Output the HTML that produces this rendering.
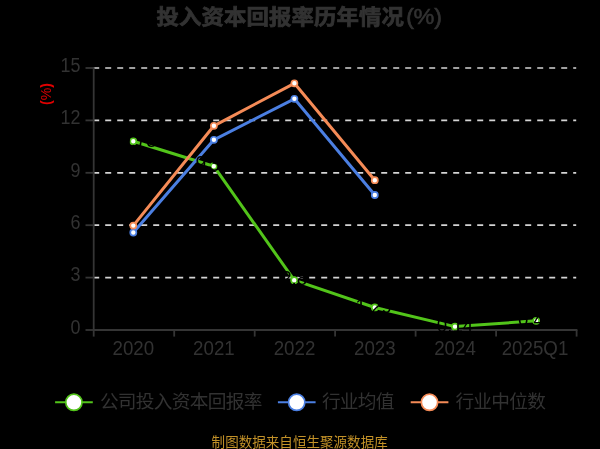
<!DOCTYPE html>
<html lang="zh"><head><meta charset="utf-8"><title>投入资本回报率历年情况(%)</title>
<style>
html,body{margin:0;padding:0;background:#000;}
body{width:600px;height:449px;overflow:hidden;}
svg{display:block;font-family:"Liberation Sans","Noto Sans CJK SC",sans-serif;will-change:transform;}
</style></head><body>
<svg width="600" height="449" viewBox="0 0 600 449">
<rect width="600" height="449" fill="#000"/>
<text transform="translate(0,24.0) scale(1,0.935)" y="0" font-size="22.4" font-weight="bold" fill="#323232" stroke="#323232" stroke-width="0.8"><tspan x="156.6" letter-spacing="0.1">投入资本回报率历年情况</tspan><tspan x="406.2" font-size="23" font-weight="normal" stroke-width="0.7">(</tspan><tspan x="413.6" font-size="23.5" font-weight="normal" stroke-width="0.55">%</tspan><tspan x="434.3" font-size="23" font-weight="normal" stroke-width="0.7">)</tspan></text>
<text transform="translate(51.2,94.1) rotate(-90)" text-anchor="middle" font-size="14.1" fill="#e00000"><tspan font-weight="bold">(</tspan>%<tspan font-weight="bold">)</tspan></text>
<line x1="93.2" y1="277.6" x2="576.2" y2="277.6" stroke="#d4d4d4" stroke-width="1.7" stroke-dasharray="6 6"/>
<line x1="93.2" y1="225.2" x2="576.2" y2="225.2" stroke="#d4d4d4" stroke-width="1.7" stroke-dasharray="6 6"/>
<line x1="93.2" y1="172.8" x2="576.2" y2="172.8" stroke="#d4d4d4" stroke-width="1.7" stroke-dasharray="6 6"/>
<line x1="93.2" y1="120.4" x2="576.2" y2="120.4" stroke="#d4d4d4" stroke-width="1.7" stroke-dasharray="6 6"/>
<line x1="93.2" y1="68.0" x2="576.2" y2="68.0" stroke="#d4d4d4" stroke-width="1.7" stroke-dasharray="6 6"/>
<line x1="93.7" y1="67.3" x2="93.7" y2="330.7" stroke="#353535" stroke-width="1.8"/>
<line x1="93.7" y1="330.0" x2="577.4" y2="330.0" stroke="#353535" stroke-width="1.8"/>
<line x1="85.5" y1="330.0" x2="93.7" y2="330.0" stroke="#353535" stroke-width="1.8"/>
<text transform="translate(80.5,333.8) scale(0.925,1)" text-anchor="end" font-size="19.4" fill="#323232">0</text>
<line x1="85.5" y1="277.6" x2="93.7" y2="277.6" stroke="#353535" stroke-width="1.8"/>
<text transform="translate(80.5,281.4) scale(0.925,1)" text-anchor="end" font-size="19.4" fill="#323232">3</text>
<line x1="85.5" y1="225.2" x2="93.7" y2="225.2" stroke="#353535" stroke-width="1.8"/>
<text transform="translate(80.5,229.0) scale(0.925,1)" text-anchor="end" font-size="19.4" fill="#323232">6</text>
<line x1="85.5" y1="172.8" x2="93.7" y2="172.8" stroke="#353535" stroke-width="1.8"/>
<text transform="translate(80.5,176.6) scale(0.925,1)" text-anchor="end" font-size="19.4" fill="#323232">9</text>
<line x1="85.5" y1="120.4" x2="93.7" y2="120.4" stroke="#353535" stroke-width="1.8"/>
<text transform="translate(80.5,124.2) scale(0.925,1)" text-anchor="end" font-size="19.4" fill="#323232">12</text>
<line x1="85.5" y1="68.0" x2="93.7" y2="68.0" stroke="#353535" stroke-width="1.8"/>
<text transform="translate(80.5,71.8) scale(0.925,1)" text-anchor="end" font-size="19.4" fill="#323232">15</text>
<line x1="93.7" y1="330.0" x2="93.7" y2="336.6" stroke="#353535" stroke-width="1.8"/>
<line x1="174.2" y1="330.0" x2="174.2" y2="336.6" stroke="#353535" stroke-width="1.8"/>
<line x1="254.7" y1="330.0" x2="254.7" y2="336.6" stroke="#353535" stroke-width="1.8"/>
<line x1="335.1" y1="330.0" x2="335.1" y2="336.6" stroke="#353535" stroke-width="1.8"/>
<line x1="415.6" y1="330.0" x2="415.6" y2="336.6" stroke="#353535" stroke-width="1.8"/>
<line x1="496.1" y1="330.0" x2="496.1" y2="336.6" stroke="#353535" stroke-width="1.8"/>
<line x1="576.6" y1="330.0" x2="576.6" y2="336.6" stroke="#353535" stroke-width="1.8"/>
<text transform="translate(133.3,354.9) scale(0.96,1)" text-anchor="middle" font-size="19.5" fill="#323232">2020</text>
<text transform="translate(213.9,354.9) scale(0.96,1)" text-anchor="middle" font-size="19.5" fill="#323232">2021</text>
<text transform="translate(294.5,354.9) scale(0.96,1)" text-anchor="middle" font-size="19.5" fill="#323232">2022</text>
<text transform="translate(374.8,354.9) scale(0.96,1)" text-anchor="middle" font-size="19.5" fill="#323232">2023</text>
<text transform="translate(455.0,354.9) scale(0.96,1)" text-anchor="middle" font-size="19.5" fill="#323232">2024</text>
<text transform="translate(535.0,354.9) scale(0.96,1)" text-anchor="middle" font-size="19.5" fill="#323232">2025Q1</text>
<polyline points="133.3,141.3 213.8,166.2 294.2,280.2 374.8,307.5 455.0,326.6 536.2,320.8" fill="none" stroke="#52c41a" stroke-width="3" stroke-linejoin="round" stroke-linecap="round"/>
<circle cx="133.3" cy="141.3" r="3.05" fill="#fff" stroke="#52c41a" stroke-width="1.7"/>
<circle cx="213.8" cy="166.2" r="3.05" fill="#fff" stroke="#52c41a" stroke-width="1.7"/>
<circle cx="294.2" cy="280.2" r="3.05" fill="#fff" stroke="#52c41a" stroke-width="1.7"/>
<circle cx="374.8" cy="307.5" r="3.05" fill="#fff" stroke="#52c41a" stroke-width="1.7"/>
<circle cx="455.0" cy="326.6" r="3.05" fill="#fff" stroke="#52c41a" stroke-width="1.7"/>
<circle cx="536.2" cy="320.8" r="3.05" fill="#fff" stroke="#52c41a" stroke-width="1.7"/>
<polyline points="133.3,232.5 213.9,139.8 294.4,98.8 374.8,195.0" fill="none" stroke="#4b7fe2" stroke-width="3" stroke-linejoin="round" stroke-linecap="round"/>
<circle cx="133.3" cy="232.5" r="3.05" fill="#fff" stroke="#4b7fe2" stroke-width="1.7"/>
<circle cx="213.9" cy="139.8" r="3.05" fill="#fff" stroke="#4b7fe2" stroke-width="1.7"/>
<circle cx="294.4" cy="98.8" r="3.05" fill="#fff" stroke="#4b7fe2" stroke-width="1.7"/>
<circle cx="374.8" cy="195.0" r="3.05" fill="#fff" stroke="#4b7fe2" stroke-width="1.7"/>
<polyline points="133.3,225.6 213.9,125.8 294.4,83.3 374.8,180.2" fill="none" stroke="#f58b57" stroke-width="3" stroke-linejoin="round" stroke-linecap="round"/>
<circle cx="133.3" cy="225.6" r="3.05" fill="#fff" stroke="#f58b57" stroke-width="1.7"/>
<circle cx="213.9" cy="125.8" r="3.05" fill="#fff" stroke="#f58b57" stroke-width="1.7"/>
<circle cx="294.4" cy="83.3" r="3.05" fill="#fff" stroke="#f58b57" stroke-width="1.7"/>
<circle cx="374.8" cy="180.2" r="3.05" fill="#fff" stroke="#f58b57" stroke-width="1.7"/>
<text transform="translate(133.3,146.5) scale(0.97,1)" text-anchor="middle" font-size="19.3" fill="#000">10.78</text>
<text transform="translate(213.8,170.1) scale(1,1)" x="-18.3 -7.6" font-size="19.3" fill="#000">9.<tspan font-size="22.4" x="-5.9" dy="1.3">3</tspan><tspan x="6.6" dy="-1.3">6</tspan></text>
<text transform="translate(294.2,285.4) scale(0.97,1)" text-anchor="middle" font-size="19.3" fill="#000">2.8</text>
<text transform="translate(373.8,312.7) scale(0.97,1)" text-anchor="middle" font-size="19.3" fill="#000">1.29</text>
<text transform="translate(455.0,331.8) scale(0.97,1)" text-anchor="middle" font-size="19.3" fill="#000">0.14</text>
<text transform="translate(536.2,326.0) scale(0.97,1)" text-anchor="middle" font-size="19.3" fill="#000">0.45</text>
<line x1="55.1" y1="402.3" x2="92.8" y2="402.3" stroke="#52c41a" stroke-width="1.9"/>
<circle cx="73.9" cy="402.3" r="8.15" fill="#fff" stroke="#52c41a" stroke-width="1.7"/>
<text x="99.9" y="407.9" font-size="18.7" letter-spacing="-0.72" fill="#323232">公司投入资本回报率</text>
<line x1="277.9" y1="402.3" x2="315.6" y2="402.3" stroke="#4b7fe2" stroke-width="1.9"/>
<circle cx="296.7" cy="402.3" r="8.15" fill="#fff" stroke="#4b7fe2" stroke-width="1.7"/>
<text x="321.9" y="407.9" font-size="18.7" letter-spacing="-0.72" fill="#323232">行业均值</text>
<line x1="410.7" y1="402.3" x2="448.4" y2="402.3" stroke="#f58b57" stroke-width="1.9"/>
<circle cx="429.5" cy="402.3" r="8.15" fill="#fff" stroke="#f58b57" stroke-width="1.7"/>
<text x="455.4" y="407.9" font-size="18.7" letter-spacing="-0.72" fill="#323232">行业中位数</text>
<text x="299.7" y="446.7" text-anchor="middle" font-size="13.5" letter-spacing="0.05" fill="#c29128">制图数据来自恒生聚源数据库</text>
</svg></body></html>
